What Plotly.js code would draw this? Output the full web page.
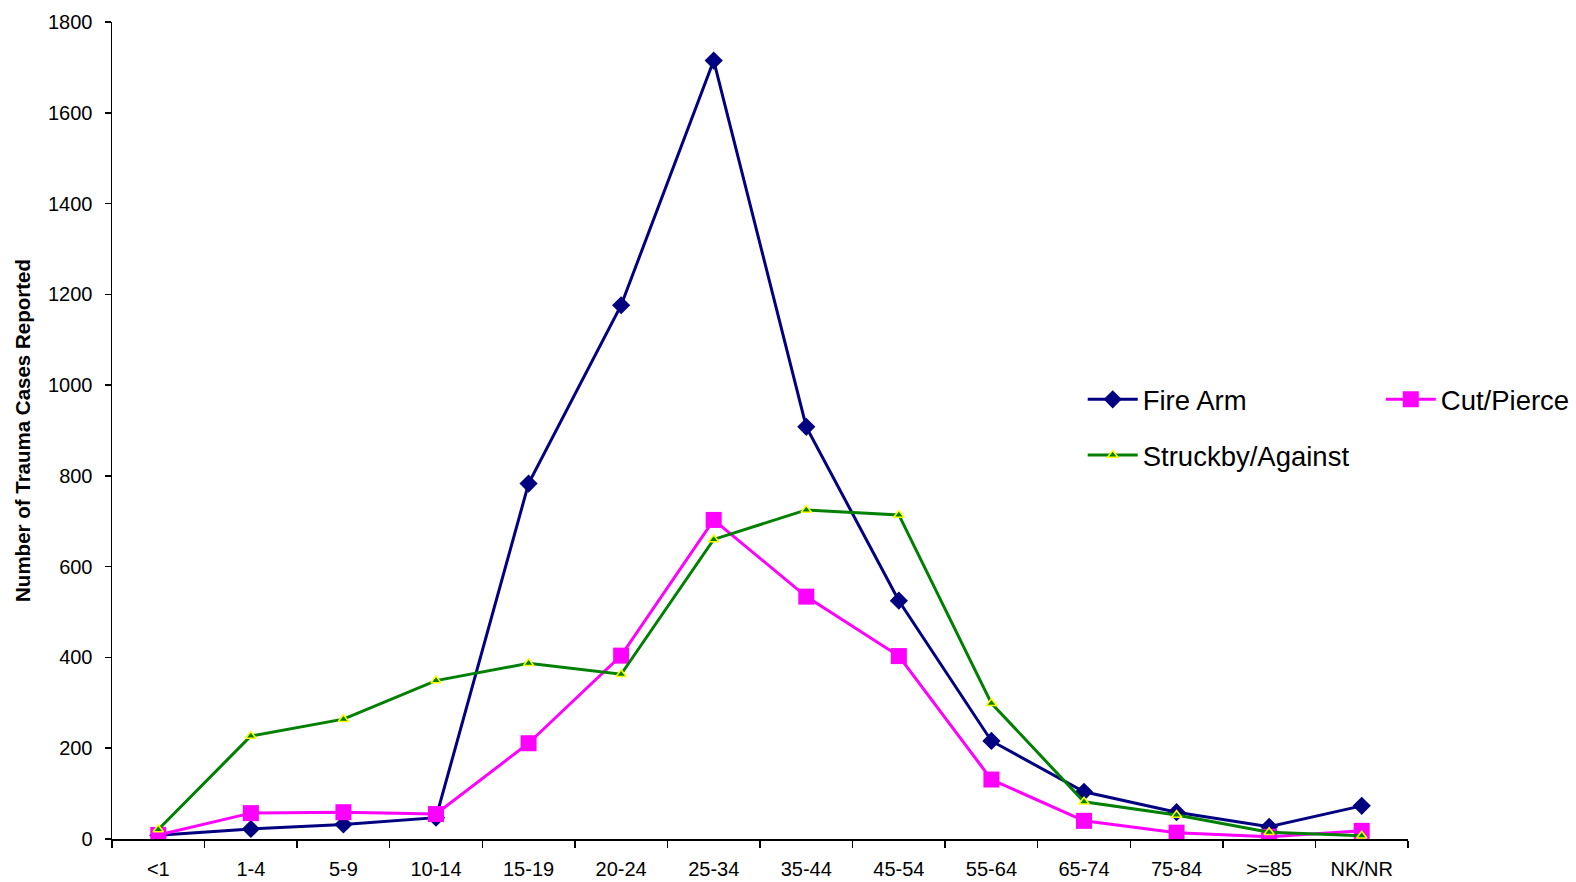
<!DOCTYPE html>
<html>
<head>
<meta charset="utf-8">
<script src="https://cdn.plot.ly/plotly-3.0.1.min.js"></script>
<style>
  html, body { margin: 0; padding: 0; background: #fff; }
  #chart { width: 1576px; height: 882px; }
</style>
</head>
<body>
<div id="chart"></div>
<script>
// Age groups on the category axis
const ageGroups = ["<1", "1-4", "5-9", "10-14", "15-19", "20-24", "25-34",
                   "35-44", "45-54", "55-64", "65-74", "75-84", ">=85", "NK/NR"];

// Trauma cases reported per age group, by mechanism of injury
const fireArm   = [8, 22, 32, 47, 783, 1176, 1715, 908, 525, 216, 104, 59, 27, 73];
const cutPierce = [9, 57, 59, 55, 211, 404, 703, 534, 403, 131, 40, 14, 5, 18];
const struckby  = [21, 227, 264, 349, 387, 363, 660, 725, 714, 299, 82, 53, 15, 7];

const yTicks = [0, 200, 400, 600, 800, 1000, 1200, 1400, 1600, 1800];

const FONT = "Arial, 'Liberation Sans', sans-serif";

// series drawn in this order: navy first, magenta over it, green on top
const traces = [
  {
    name: "Fire Arm", x: ageGroups, y: fireArm, type: "scatter", mode: "lines+markers",
    line: { color: "#000080", width: 3 },
    marker: { symbol: "diamond", size: 14, color: "#000080" },
    legend: "legend", legendgroup: "a", legendrank: 1
  },
  {
    name: "Cut/Pierce", x: ageGroups, y: cutPierce, type: "scatter", mode: "lines+markers",
    line: { color: "#FF00FF", width: 3 },
    marker: { symbol: "square", size: 16, color: "#FF00FF" },
    legend: "legend2"
  },
  {
    name: "Struckby/Against", x: ageGroups, y: struckby, type: "scatter", mode: "lines+markers",
    line: { color: "#008000", width: 3 },
    marker: { symbol: "triangle-up", size: 9, color: "#008000", line: { color: "#FFFF00", width: 1.5 } },
    legend: "legend", legendgroup: "b", legendrank: 2
  }
];

const layout = {
  width: 1576, height: 882,
  paper_bgcolor: "#ffffff", plot_bgcolor: "#ffffff",
  font: { family: FONT, color: "#000000", size: 20 },
  margin: { l: 112, r: 168, t: 22, b: 43, autoexpand: false },
  showlegend: true,
  xaxis: {
    type: "category", range: [-0.5, 13.5],
    showline: true, linecolor: "#000000", linewidth: 1.5,
    ticks: "outside", tickson: "boundaries", ticklen: 7, tickwidth: 1.5, tickcolor: "#000000",
    showgrid: false, zeroline: false,
    tickfont: { family: FONT, size: 20, color: "#000000" },
    ticklabelstandoff: 11
  },
  yaxis: {
    range: [0, 1800], tickvals: yTicks, ticktext: yTicks.map(String),
    showline: true, linecolor: "#000000", linewidth: 1.5,
    ticks: "outside", ticklen: 6, tickwidth: 1.5, tickcolor: "#000000",
    showgrid: false, zeroline: false,
    tickfont: { family: FONT, size: 20, color: "#000000" },
    ticklabelstandoff: 8,
    title: { text: "<b>Number of Trauma Cases Reported</b>", font: { family: FONT, size: 20.5, color: "#000000" }, standoff: 12 }
  },
  legend: {
    x: 0.749, y: 0.568, xanchor: "left", yanchor: "top",
    orientation: "v", traceorder: "grouped", tracegroupgap: 17,
    bgcolor: "rgba(0,0,0,0)", borderwidth: 0, itemwidth: 50,
    font: { family: FONT, size: 27.5, color: "#000000" }
  },
  legend2: {
    x: 0.979, y: 0.568, xanchor: "left", yanchor: "top",
    orientation: "v", bgcolor: "rgba(0,0,0,0)", borderwidth: 0, itemwidth: 50,
    font: { family: FONT, size: 27.5, color: "#000000" }
  }
};

Plotly.newPlot("chart", traces, layout, { displayModeBar: false, staticPlot: true });
</script>
</body>
</html>
